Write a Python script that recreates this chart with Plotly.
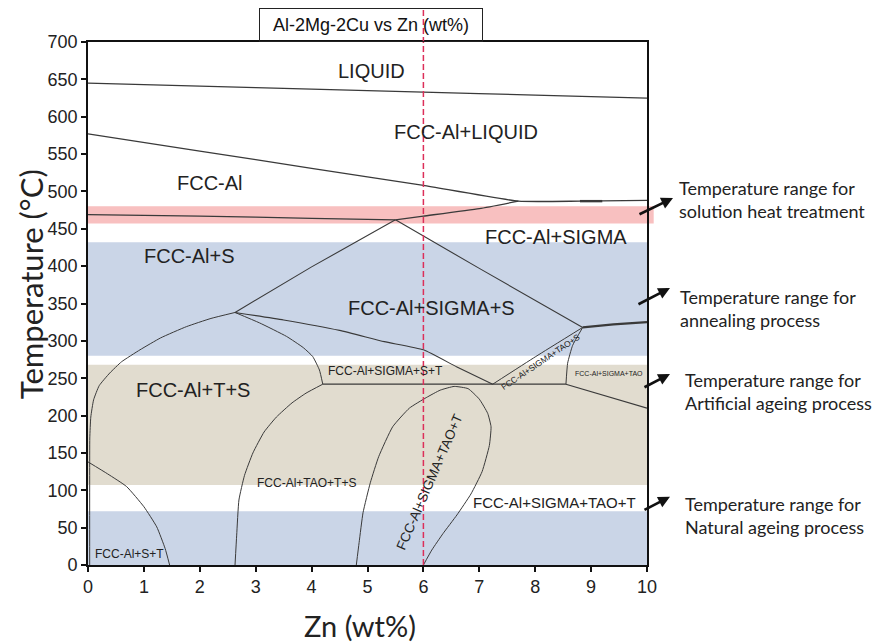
import plotly.graph_objects as go

# ---------------- data ----------------
zn_ticks = list(range(0, 11))
temp_ticks = list(range(0, 701, 50))

liquidus_zn = [0, 2, 4, 6, 8, 9, 10]
liquidus_T = [645, 641, 637, 633, 629, 627, 625]

solidus_zn = [0, 2, 4, 6, 7.7, 8.8, 10]
solidus_T = [577, 554, 531, 508, 487, 487, 488]

solidus_thick_zn = [8.8, 9.2]
solidus_thick_T = [487, 487]

fcc_s_solvus_zn = [0, 2, 4, 5.5]
fcc_s_solvus_T = [469, 467, 464, 462]

fcc_sigma_solvus_zn = [5.5, 6, 7, 7.7]
fcc_sigma_solvus_T = [462, 467, 477, 487]

s_sigma_left_zn = [5.5, 4.0, 2.63]
s_sigma_left_T = [462, 399, 338]

s_sigma_right_zn = [5.5, 7.0, 8.85]
s_sigma_right_T = [462, 397, 318]

s_sigma_tail_zn = [8.85, 9.4, 10]
s_sigma_tail_T = [318, 322, 325]

t_solvus_zn = [2.63, 3.5, 4.5, 5.3, 6.0, 6.6, 7.24]
t_solvus_T = [338, 328, 314, 299, 288, 265, 242]

t_inner_zn = [2.63, 3.07, 3.55, 3.85, 4.02, 4.14, 4.2]
t_inner_T = [338, 324, 306, 291, 279, 261, 242]

left_curve_zn = [0.03, 0.03, 0.032, 0.05, 0.1, 0.2, 0.39, 0.6, 0.93, 1.3, 1.76, 2.2, 2.63]
left_curve_T = [0, 120, 170, 198, 221, 240, 257, 272, 288, 304, 319, 330, 338]

fcc_st_curve_zn = [0, 0.35, 0.69, 1.0, 1.23, 1.38, 1.46]
fcc_st_curve_T = [138, 122, 105, 78, 51, 22, 0]

tao_left_zn = [2.63, 2.66, 2.7, 2.8, 2.95, 3.15, 3.37, 3.65, 3.9, 4.2]
tao_left_T = [0, 40, 87, 120, 150, 178, 198, 217, 230, 242]

dome_zn = [4.8, 4.85, 4.92, 5.05, 5.2, 5.45, 5.75, 6.05, 6.3, 6.55, 6.8,
           7.0, 7.15, 7.21, 7.18, 7.05, 6.85, 6.6, 6.35, 6.15, 6.0]
dome_T = [0, 30, 70, 110, 145, 185, 210, 224, 234, 239, 236,
          222, 203, 185, 160, 125, 95, 67, 42, 20, 0]

invariant_zn = [4.2, 8.55]
invariant_T = [242, 242]

sigma_tao_low_zn = [8.55, 10]
sigma_tao_low_T = [242, 210]

sigma_tao_up_zn = [8.55, 8.58, 8.67, 8.85]
sigma_tao_up_T = [242, 270, 294, 318]

tao_s_zn = [7.24, 8.01, 8.85]
tao_s_T = [242, 279, 318]

alloy_zn = 6

band_solution = [457, 480]
band_anneal = [280, 432]
band_artificial = [107, 268]
band_natural = [0, 72]

# ---------------- figure ----------------
LINE = "#3a3a3a"
fig = go.Figure()

curves = [
    (liquidus_zn, liquidus_T, 1.3),
    (solidus_zn, solidus_T, 1.3),
    (solidus_thick_zn, solidus_thick_T, 2.4),
    (fcc_s_solvus_zn, fcc_s_solvus_T, 1.3),
    (fcc_sigma_solvus_zn, fcc_sigma_solvus_T, 1.3),
    (s_sigma_left_zn, s_sigma_left_T, 1.1),
    (s_sigma_right_zn, s_sigma_right_T, 1.1),
    (s_sigma_tail_zn, s_sigma_tail_T, 2.2),
    (t_solvus_zn, t_solvus_T, 1.1),
    (t_inner_zn, t_inner_T, 1.0),
    (left_curve_zn, left_curve_T, 1.0),
    (fcc_st_curve_zn, fcc_st_curve_T, 1.0),
    (tao_left_zn, tao_left_T, 1.0),
    (dome_zn, dome_T, 1.0),
    (invariant_zn, invariant_T, 1.2),
    (sigma_tao_low_zn, sigma_tao_low_T, 1.1),
    (sigma_tao_up_zn, sigma_tao_up_T, 1.0),
    (tao_s_zn, tao_s_T, 1.0),
]
for xs, ys, w in curves:
    fig.add_trace(go.Scatter(x=xs, y=ys, mode="lines",
                             line=dict(color=LINE, width=w, shape="spline", smoothing=0.45),
                             hoverinfo="skip", showlegend=False))

bands = [
    (band_solution, "rgba(242,140,140,0.55)", 1.012),
    (band_anneal, "#cad5e7", 1.0),
    (band_artificial, "#e1dccf", 1.0),
    (band_natural, "#cad5e7", 1.0),
]
for (lo, hi), col, x1 in bands:
    fig.add_shape(type="rect", xref="paper", yref="y", x0=0, x1=x1, y0=lo, y1=hi,
                  fillcolor=col, line=dict(width=0), layer="below")

fig.add_shape(type="line", xref="x", yref="paper", x0=alloy_zn, x1=alloy_zn, y0=0, y1=1.062,
              line=dict(color="#dc2f5a", width=1.5, dash="6px,3px"))

ARIAL = "Liberation Sans, Arial, sans-serif"
TXT = "#222222"
labels = [
    ("LIQUID", 5.07, 661, 20, 0),
    ("FCC-Al+LIQUID", 6.77, 580, 20, 0),
    ("FCC-Al", 2.18, 511, 20, 0),
    ("FCC-Al+S", 1.82, 414, 20, 0),
    ("FCC-Al+SIGMA", 8.37, 439, 20, 0),
    ("FCC-Al+SIGMA+S", 6.14, 344, 20, 0),
    ("FCC-Al+T+S", 1.88, 234, 20, 0),
    ("FCC-Al+SIGMA+S+T", 5.33, 260, 12, 0),
    ("FCC-Al+TAO+T+S", 3.9, 110, 12, 0),
    ("FCC-Al+S+T", 0.75, 15, 12, 0),
    ("FCC-Al+SIGMA+TAO+T", 8.34, 84, 15, 0),
    ("FCC-Al+SIGMA+TAO+T", 6.11, 110, 13.5, -66.5),
    ("FCC-Al+SIGMA+TAO+S", 8.09, 272, 8.5, -34),
    ("FCC-Al+SIGMA+TAO", 9.32, 256, 7, 0),
]
for text, x, y, size, ang in labels:
    fig.add_annotation(x=x, y=y, xref="x", yref="y", text=text, showarrow=False,
                       textangle=ang, font=dict(family=ARIAL, size=size, color=TXT))

# side notes (paper coordinates: arrow head, arrow tail offset, text anchor)
notes = [
    ("Temperature range for<br>solution heat treatment", 1.0465, 0.7017, -35, 17, 1.0537, 0.6998),
    ("Temperature range for<br>annealing process", 1.0411, 0.5296, -33, 17, 1.0555, 0.4904),
    ("Temperature range for<br>Artificial ageing process", 1.0411, 0.3652, -27, 14, 1.0639, 0.3317),
    ("Temperature range for<br>Natural ageing process", 1.0411, 0.1306, -27, 14, 1.0639, 0.0956),
]
for text, hx, hy, ax, ay, tx, ty in notes:
    fig.add_annotation(x=hx, y=hy, xref="paper", yref="paper", text="", showarrow=True, ax=ax, ay=ay,
                       arrowhead=2, arrowsize=0.9, arrowwidth=2.6, arrowcolor="#111111")
    fig.add_annotation(x=tx, y=ty, xref="paper", yref="paper", text=text, showarrow=False,
                       xanchor="left", yanchor="middle", align="left",
                       font=dict(family="Lato, sans-serif", size=18, color=TXT))

fig.add_annotation(x=0.507, y=1, xref="paper", yref="paper", yanchor="bottom", showarrow=False,
                   text="Al-2Mg-2Cu vs Zn (wt%)", font=dict(family=ARIAL, size=18, color="#111"),
                   bordercolor="#222", borderwidth=1, borderpad=0, width=222, height=32,
                   bgcolor="rgba(0,0,0,0)")

fig.add_annotation(x=-0.102, y=0.537, xref="paper", yref="paper", text="Temperature (°C)",
                   xanchor="center", yanchor="middle",
                   textangle=-90, showarrow=False, font=dict(family="Lato, sans-serif", size=31, color="#222"))
fig.add_annotation(x=0.487, y=-0.115, xref="paper", yref="paper", text="Zn (wt%)",
                   xanchor="center", yanchor="middle",
                   showarrow=False, font=dict(family="Lato, sans-serif", size=29, color="#222"))

fig.update_xaxes(range=[0, 10], tickvals=zn_ticks, ticks="outside", ticklen=5, tickwidth=1.5,
                 tickcolor="#111", showline=True, linecolor="#111", linewidth=1.6, mirror=True,
                 showgrid=False, zeroline=False, tickfont=dict(family=ARIAL, size=18, color="#222"))
fig.update_yaxes(range=[0, 700], tickvals=temp_ticks, ticks="outside", ticklen=5, tickwidth=1.5,
                 tickcolor="#111", showline=True, linecolor="#111", linewidth=1.6, mirror=True,
                 showgrid=False, zeroline=False, tickfont=dict(family=ARIAL, size=18, color="#222"))

fig.update_layout(width=875, height=642, margin=dict(l=88, r=228, t=42, b=77),
                  plot_bgcolor="white", paper_bgcolor="white", showlegend=False)

fig.write_html("out.html")
